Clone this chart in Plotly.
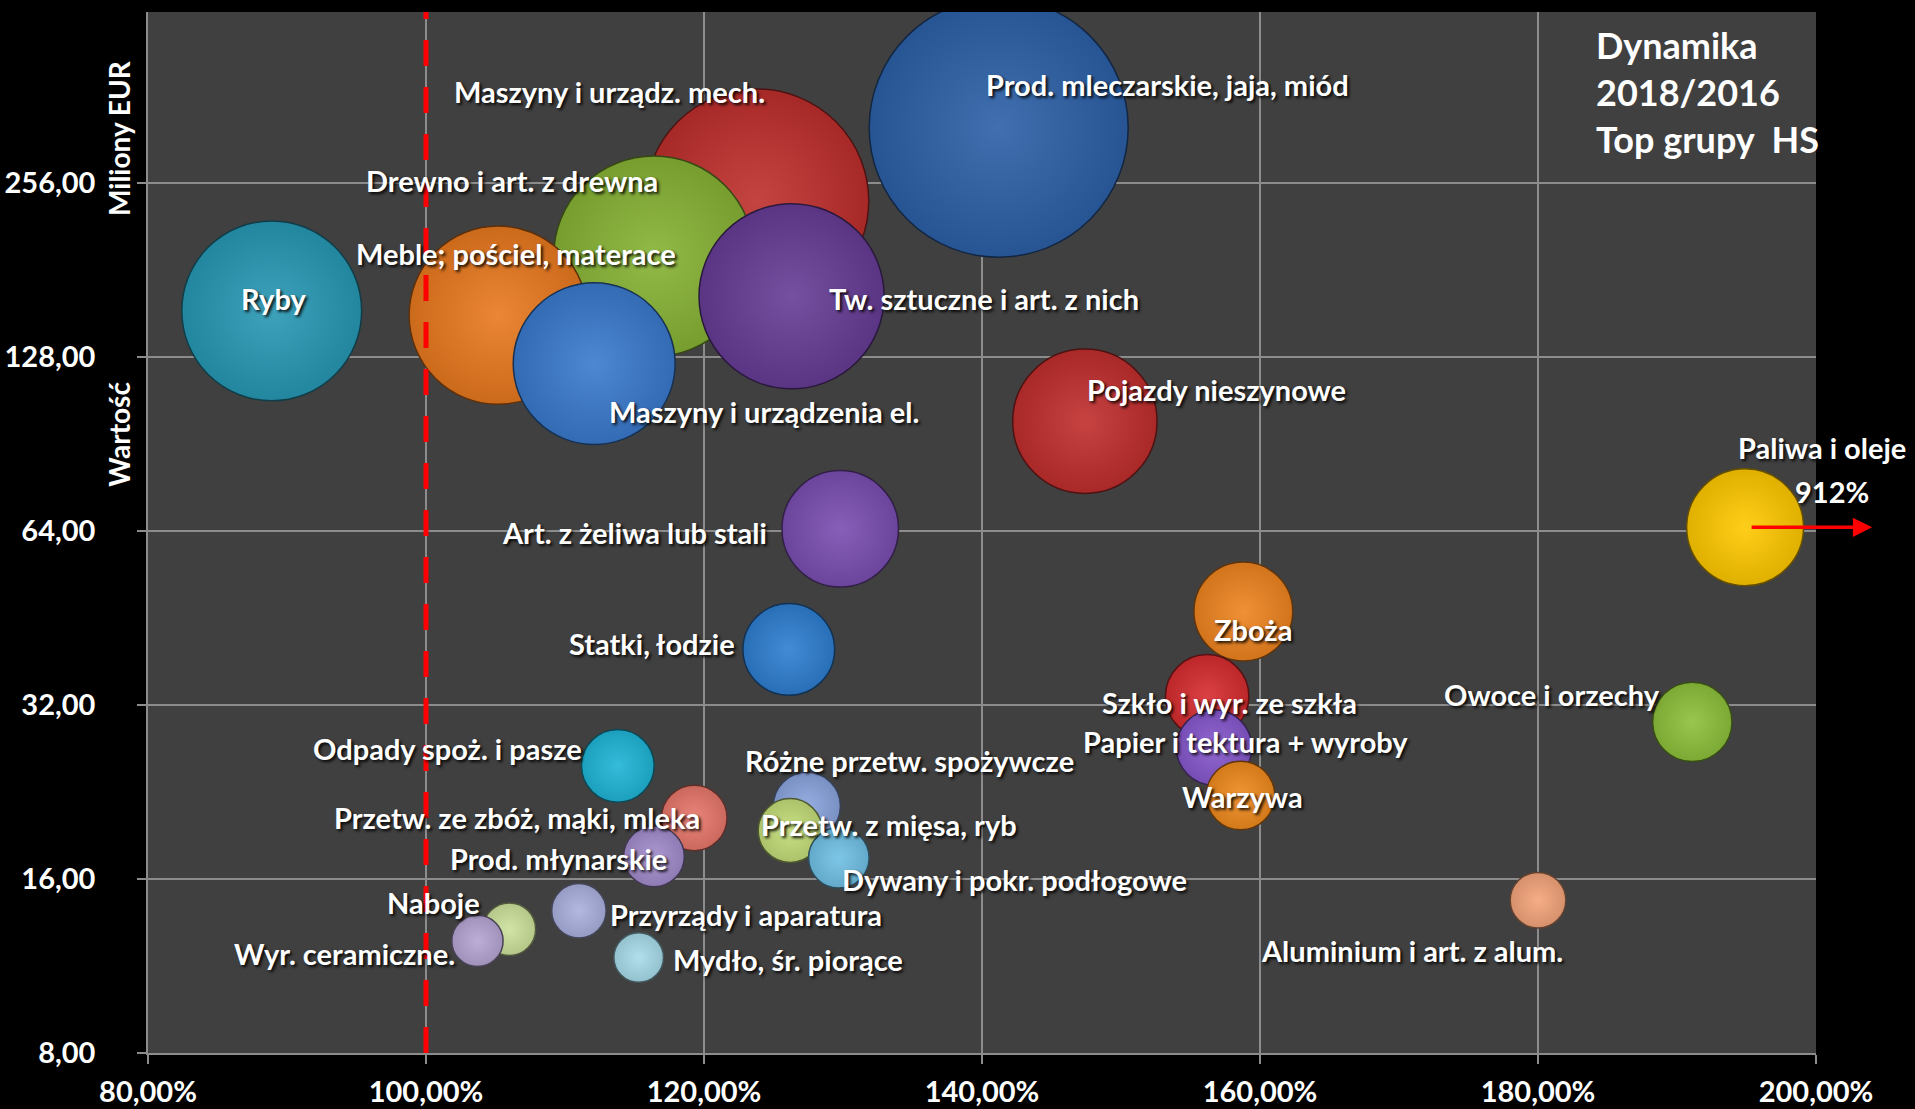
import numpy as np
import plotly.graph_objects as go

# ---------------- data ----------------
groups = [
    "Prod. mleczarskie, jaja, miód", "Maszyny i urządz. mech.", "Drewno i art. z drewna",
    "Tw. sztuczne i art. z nich", "Ryby", "Meble; pościel, materace",
    "Maszyny i urządzenia el.", "Pojazdy nieszynowe", "Paliwa i oleje",
    "Art. z żeliwa lub stali", "Zboża", "Statki, łodzie", "Szkło i wyr. ze szkła",
    "Owoce i orzechy", "Papier i tektura + wyroby", "Odpady spoż. i pasze", "Warzywa",
    "Różne przetw. spożywcze", "Przetw. ze zbóż, mąki, mleka", "Przetw. z mięsa, ryb",
    "Prod. młynarskie", "Dywany i pokr. podłogowe", "Aluminium i art. z alum.",
    "Przyrządy i aparatura", "Naboje", "Wyr. ceramiczne.", "Mydło, śr. piorące",
]
# dynamika 2018/2016 (%), as plotted (Paliwa i oleje shown at the right edge, real 912%)
dynamika = [141.2, 123.8, 116.4, 126.3, 88.9, 105.2, 112.1, 147.4, 194.9,
            129.8, 158.8, 126.1, 156.2, 191.1, 156.7, 113.8, 158.6,
            127.4, 119.3, 126.2, 116.4, 129.7, 180.0, 111.0, 106.0, 103.7, 115.3]
# wartość (mln EUR) - also the bubble size
wartosc = [318.6, 238.0, 191.0, 162.8, 153.6, 151.0, 124.5, 99.0, 64.9,
           64.5, 46.4, 39.9, 33.1, 29.9, 27.0, 25.1, 22.3,
           21.4, 20.4, 19.4, 17.5, 17.4, 14.7, 14.1, 13.1, 12.5, 11.7]
paliwa_real = "912%"

x_ticks = [80, 100, 120, 140, 160, 180, 200]
x_ticktext = ["80,00%", "100,00%", "120,00%", "140,00%", "160,00%", "180,00%", "200,00%"]
y_ticks = [8, 16, 32, 64, 128, 256]
y_ticktext = ["8,00", "16,00", "32,00", "64,00", "128,00", "256,00"]

# ---------------- styles ----------------
base_colors = [
    "#2C5FA6", "#BE2F2C", "#86B234", "#663C95", "#2898B5", "#E8781F",
    "#3A7ACD", "#C02E2D", "#FFC800", "#7A4DB0", "#EE8420", "#2E7ED0", "#D62C2F",
    "#8CC03A", "#8657CC", "#1FB5D6", "#EF8A1E",
    "#8AA4DE", "#E7766B", "#C3DC78", "#A28CCB", "#70C0E4", "#F3A47A",
    "#A9B0DC", "#CDE29C", "#B6A5D3", "#A8DBEA",
]
# label offsets in pixels (dx right, dy up) from bubble centre
label_dx = [169, -147, -142, 192, 2, 18, 170, 132, 77,
            -206, 10, -137, 22, -140, 31, -170, 2,
            103, -177, 99, -95, 176, -126, 167, -76, -133, 149]
label_dy = [43, 109, 76, -2, 12, 62, -48, 32, 80,
            -4, -18, 6, -6, 27, 6, 17, -1,
            45, 0, 6, -2, -22, -50, -4, 27, -13, -2]


def mix(hexc, other, t):
    hexc = hexc.lstrip("#")
    other = other.lstrip("#")
    a = [int(hexc[i:i + 2], 16) for i in (0, 2, 4)]
    b = [int(other[i:i + 2], 16) for i in (0, 2, 4)]
    c = [round(a[i] * (1 - t) + b[i] * t) for i in range(3)]
    return "#%02x%02x%02x" % tuple(c)


edge_colors = [mix(c, "#000000", 0.12) for c in base_colors]
center_colors = [mix(c, "#ffffff", 0.10) for c in base_colors]
line_colors = [mix(c, "#000000", 0.6) for c in base_colors]

FONT = "Lato, Carlito, Calibri, 'Liberation Sans', sans-serif"
LABEL_SIZE = 29
max_diam = 259

fig = go.Figure()
fig.add_trace(go.Scatter(
    x=dynamika, y=wartosc, mode="markers", hoverinfo="text", hovertext=groups,
    marker=dict(
        size=wartosc, sizemode="area", sizeref=2 * max(wartosc) / max_diam ** 2,
        color=edge_colors,
        gradient=dict(type="radial", color=center_colors),
        line=dict(color=line_colors, width=1.5),
        opacity=1,
    ),
    showlegend=False,
))

label_font = dict(family=FONT, size=LABEL_SIZE, color="white", weight="bold",
                  shadow="2px 2px 3px rgba(0,0,0,0.9)")
annotations = []
for name, xv, yv, dx, dy in zip(groups, dynamika, wartosc, label_dx, label_dy):
    annotations.append(dict(
        x=xv, y=np.log10(yv), xref="x", yref="y", text=name, showarrow=False,
        xshift=dx, yshift=dy, xanchor="center", yanchor="middle", font=label_font,
    ))

pi = groups.index("Paliwa i oleje")
annotations.append(dict(
    x=dynamika[pi], y=np.log10(wartosc[pi]), xref="x", yref="y", text=paliwa_real,
    showarrow=False, xshift=87, yshift=36, xanchor="center", yanchor="middle",
    font=label_font,
))
# red arrow out of the axis range
annotations.append(dict(
    x=dynamika[pi], y=np.log10(wartosc[pi]), xref="x", yref="y", text="",
    showarrow=True, xshift=127, ax=-122, ay=0, arrowhead=2, arrowsize=1.1,
    arrowwidth=3.5, arrowcolor="#FF0000", standoff=0,
))
# title block
annotations.append(dict(
    x=0.867, y=0.923, xref="paper", yref="paper", xanchor="left", yanchor="middle",
    align="left", showarrow=False,
    text="Dynamika<br>2018/2016<br>Top grupy\u00a0\u00a0HS",
    font=dict(family=FONT, size=36, color="white", weight="bold"),
))
# axis titles
annotations.append(dict(
    x=0, y=0.879, xref="paper", yref="paper", xshift=-29, textangle=-90,
    xanchor="center", yanchor="middle", showarrow=False, text="Miliony EUR",
    font=dict(family=FONT, size=28, color="white", weight="bold"),
))
annotations.append(dict(
    x=0, y=0.594, xref="paper", yref="paper", xshift=-29, textangle=-90,
    xanchor="center", yanchor="middle", showarrow=False, text="Wartość",
    font=dict(family=FONT, size=28, color="white", weight="bold"),
))

fig.update_layout(
    width=1915, height=1109,
    margin=dict(l=148, r=99, t=12, b=56),
    paper_bgcolor="#000000", plot_bgcolor="#404040",
    annotations=annotations,
    shapes=[dict(type="line", xref="x", yref="paper", x0=100, x1=100, y0=0, y1=1,
                 line=dict(color="#FF0000", width=5, dash="26px,21px"), layer="above")],
    xaxis=dict(
        range=[80, 200], tickvals=x_ticks, ticktext=x_ticktext, automargin=False,
        showgrid=True, gridcolor="#8C8C8C", gridwidth=1.5,
        showline=True, linecolor="#8C8C8C", linewidth=1.5,
        ticks="outside", ticklen=9, tickcolor="#8C8C8C", tickwidth=1.5,
        ticklabelstandoff=3, zeroline=False,
        tickfont=dict(family=FONT, size=29, color="white", weight="bold"),
    ),
    yaxis=dict(
        type="log", range=[np.log10(8), np.log10(505)], automargin=False,
        tickvals=y_ticks, ticktext=y_ticktext,
        showgrid=True, gridcolor="#8C8C8C", gridwidth=1.5,
        showline=True, linecolor="#8C8C8C", linewidth=1.5,
        ticks="outside", ticklen=9, tickcolor="#8C8C8C", tickwidth=1.5,
        ticklabelstandoff=36, zeroline=False,
        tickfont=dict(family=FONT, size=29, color="white", weight="bold"),
    ),
)

fig.write_html(
    "out.html",
    config={"displayModeBar": False},
    post_script="document.body.style.margin='0';document.body.style.background='#000';"
                "document.documentElement.style.overflow='hidden';",
)
